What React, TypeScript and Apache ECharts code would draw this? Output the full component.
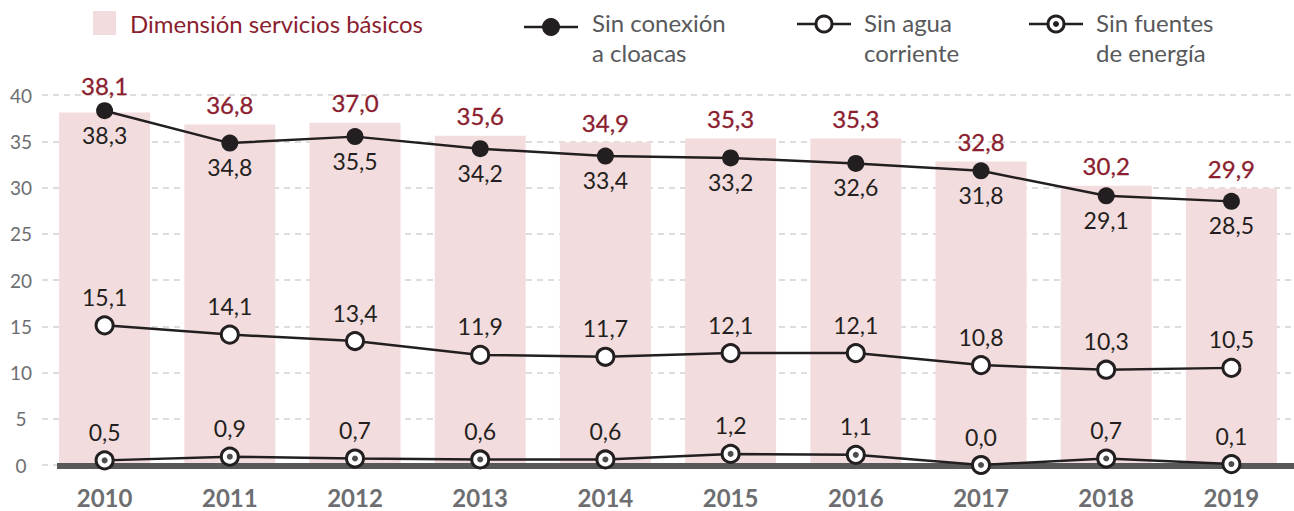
import React, { useEffect, useRef } from "react";
import * as echarts from "echarts";

const years = ["2010", "2011", "2012", "2013", "2014", "2015", "2016", "2017", "2018", "2019"];
const dimension = [38.1, 36.8, 37.0, 35.6, 34.9, 35.3, 35.3, 32.8, 30.2, 29.9];
const cloacas = [38.3, 34.8, 35.5, 34.2, 33.4, 33.2, 32.6, 31.8, 29.1, 28.5];
const agua = [15.1, 14.1, 13.4, 11.9, 11.7, 12.1, 12.1, 10.8, 10.3, 10.5];
const energia = [0.5, 0.9, 0.7, 0.6, 0.6, 1.2, 1.1, 0.0, 0.7, 0.1];

const FONT = "Lato";
const RED = "#8b1e2f";
const DARK = "#231f20";
const GRAY = "#6d6e71";
const PINK = "#f3dcdd";

const fmt = (v: number) => v.toFixed(1).replace(".", ",");

export default function App() {
  const ref = useRef<HTMLDivElement>(null);
  useEffect(() => {
    document.body.style.margin = "0";
    const chart = echarts.init(ref.current!, null, { renderer: "svg" });
    const lineLabel = (pos: string, dist: number) => ({
      show: true,
      position: pos,
      distance: dist,
      fontFamily: FONT,
      fontSize: 23,
      color: DARK,
      formatter: (p: any) => fmt(p.value),
    });
    const option: any = {
      animation: false,
      grid: { left: 42, right: 0, top: 95, bottom: 46 },
      xAxis: {
        type: "category",
        data: years,
        boundaryGap: true,
        axisLine: { show: false },
        axisTick: { show: false },
        axisLabel: { margin: 20, fontFamily: FONT, fontSize: 24, fontWeight: "bold", color: GRAY },
      },
      yAxis: {
        type: "value",
        min: 0,
        max: 40,
        interval: 5,
        axisLine: { show: false },
        axisTick: { show: false },
        axisLabel: { margin: 21, align: "center", fontFamily: FONT, fontSize: 19, color: GRAY },
        splitLine: { lineStyle: { color: "#d2d2d2", width: 1.5, type: [6, 5] } },
      },
      series: [
        {
          type: "bar",
          name: "Dimensión servicios básicos",
          data: dimension.map((v, i) =>
            i === 0 ? { value: v, label: { distance: 15 } } : v
          ),
          barWidth: 91,
          itemStyle: { color: PINK },
          z: 1,
          label: {
            show: true,
            position: "top",
            distance: 8,
            fontFamily: FONT,
            fontSize: 24,
            color: RED,
            textBorderColor: RED,
            textBorderWidth: 0.3,
            formatter: (p: any) => fmt(p.value),
          },
        },
        {
          type: "line",
          name: "Sin conexión a cloacas",
          data: cloacas,
          symbol: "circle",
          symbolSize: 17,
          lineStyle: { color: DARK, width: 2.5 },
          itemStyle: { color: DARK },
          label: lineLabel("bottom", 4),
          z: 5,
        },
        {
          type: "line",
          name: "Sin agua corriente",
          data: agua,
          symbol: "circle",
          symbolSize: 17,
          lineStyle: { color: DARK, width: 2.5 },
          itemStyle: { color: "#fff", borderColor: DARK, borderWidth: 3 },
          label: lineLabel("top", 7),
          z: 5,
        },
        {
          type: "line",
          name: "Sin fuentes de energía",
          data: energia,
          symbol: "circle",
          symbolSize: 17,
          lineStyle: { color: DARK, width: 2.5 },
          itemStyle: { color: "#fff", borderColor: DARK, borderWidth: 3 },
          label: lineLabel("top", 7),
          z: 5,
        },
        {
          type: "scatter",
          data: energia,
          symbolSize: 6,
          itemStyle: { color: DARK },
          silent: true,
          z: 6,
        },
      ],
      graphic: [
        { type: "rect", z: 3, shape: { x: 57, y: 463, width: 1237, height: 6 }, style: { fill: "#58585a" } },
        // legend: bars
        { type: "rect", shape: { x: 93, y: 11, width: 23, height: 24 }, style: { fill: PINK } },
        {
          type: "text",
          x: 130,
          y: 23,
          style: { text: "Dimensión servicios básicos", fill: RED, font: `24px ${FONT}`, verticalAlign: "middle" },
        },
        // legend: cloacas
        { type: "line", shape: { x1: 524, y1: 27, x2: 578, y2: 27 }, style: { stroke: DARK, lineWidth: 2.5 } },
        { type: "circle", shape: { cx: 551, cy: 27, r: 9 }, style: { fill: DARK } },
        {
          type: "text",
          x: 592,
          y: 7,
          style: { text: "Sin conexión\na cloacas", fill: "#58595b", font: `24px ${FONT}`, lineHeight: 30 },
        },
        // legend: agua
        { type: "line", shape: { x1: 797, y1: 24, x2: 851, y2: 24 }, style: { stroke: DARK, lineWidth: 2.5 } },
        { type: "circle", shape: { cx: 824, cy: 24, r: 8 }, style: { fill: "#fff", stroke: DARK, lineWidth: 3 } },
        {
          type: "text",
          x: 864,
          y: 7,
          style: { text: "Sin agua\ncorriente", fill: "#58595b", font: `24px ${FONT}`, lineHeight: 30 },
        },
        // legend: energia
        { type: "line", shape: { x1: 1029, y1: 24, x2: 1083, y2: 24 }, style: { stroke: DARK, lineWidth: 2.5 } },
        { type: "circle", shape: { cx: 1056, cy: 24, r: 8 }, style: { fill: "#fff", stroke: DARK, lineWidth: 3 } },
        { type: "circle", shape: { cx: 1056, cy: 24, r: 3 }, style: { fill: DARK } },
        {
          type: "text",
          x: 1096,
          y: 7,
          style: { text: "Sin fuentes\nde energía", fill: "#58595b", font: `24px ${FONT}`, lineHeight: 30 },
        },
      ],
    };
    chart.setOption(option);
    return () => chart.dispose();
  }, []);
  return <div ref={ref} style={{ width: 1294, height: 511 }} />;
}
